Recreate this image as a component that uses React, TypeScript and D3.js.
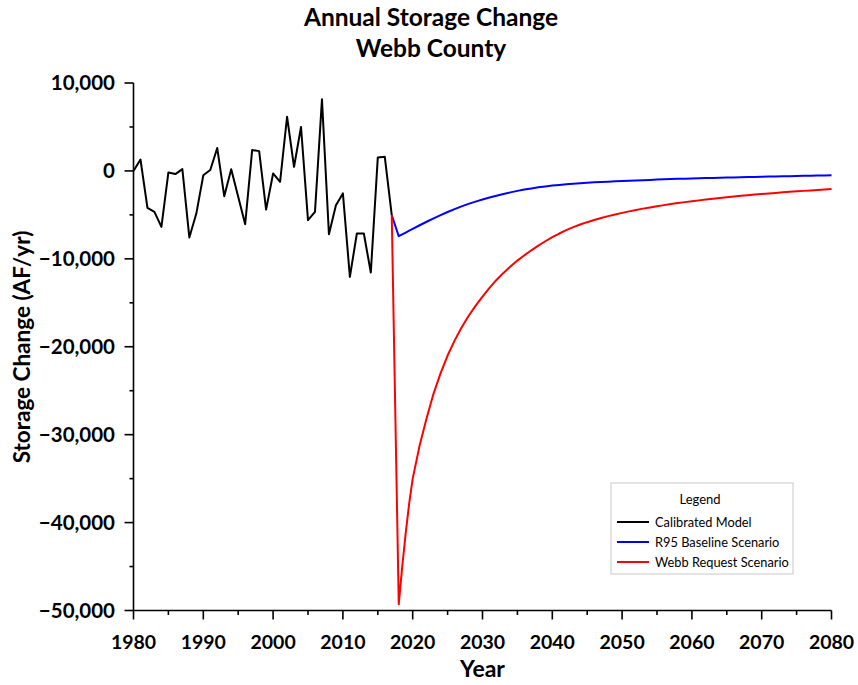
import React from "react";
import * as d3 from "d3";

const calibratedYears = d3.range(1980, 2018);
const calibratedValues = [
  0, 1300, -4200, -4660, -6370, -170, -360, 200, -7570, -4850,
  -500, 100, 2600, -2870, 200, -2950, -6060, 2370, 2250, -4400,
  -290, -1240, 6160, 470, 5000, -5600, -4660, 8140, -7200, -3900,
  -2560, -12060, -7120, -7120, -11560, 1540, 1600, -5030,
];

const scenarioYears = [2017, 2018, 2018.5, 2019, 2019.5, ...d3.range(2020, 2081)];

const baselineValues = [
  -5030, -7430, -7220, -7010, -6800,
  -6590, -6180, -5780, -5390, -5020, -4670, -4340, -4030, -3750, -3490,
  -3250, -3030, -2820, -2620, -2440, -2270, -2120, -1990, -1870, -1760,
  -1670, -1590, -1520, -1460, -1400, -1350, -1300, -1260, -1220, -1180,
  -1145, -1110, -1080, -1050, -1020, -990, -960, -930, -900, -880,
  -860, -840, -815, -795, -775, -755, -735, -715, -700, -680,
  -665, -645, -630, -610, -595, -580, -560, -545, -530, -515,
  -500,
];

const webbValues = [
  -5030, -49300, -45000, -41200, -37800,
  -35000, -31200, -28100, -25300, -23000, -21000, -19300, -17800, -16500, -15350,
  -14300, -13300, -12400, -11600, -10880, -10200, -9600, -9030, -8500, -8000,
  -7540, -7120, -6740, -6400, -6100, -5830, -5580, -5350, -5140, -4950,
  -4770, -4600, -4440, -4290, -4150, -4020, -3890, -3770, -3660, -3550,
  -3450, -3350, -3250, -3160, -3070, -2990, -2910, -2830, -2760, -2690,
  -2620, -2560, -2500, -2440, -2380, -2320, -2270, -2220, -2170, -2120,
  -2070,
];

const xTicks = d3.range(1980, 2081, 10);
const xMinorTicks = d3.range(1985, 2080, 10);
const yTicks = d3.range(-50000, 10001, 10000);
const yMinorTicks = d3.range(-45000, 10000, 10000);

const legendItems = [
  { label: "Calibrated Model", color: "#000000" },
  { label: "R95 Baseline Scenario", color: "#0000ff" },
  { label: "Webb Request Scenario", color: "#ff0000" },
];

const W = 858;
const H = 685;
const M = { left: 133.5, right: 831.5, top: 83, bottom: 610.5 };
const FONT = "Lato, 'Open Sans', sans-serif";

export default function App() {
  const x = d3.scaleLinear().domain([1980, 2080]).range([M.left, M.right]);
  const y = d3.scaleLinear().domain([-50000, 10000]).range([M.bottom, M.top]);
  const line = d3
    .line<[number, number]>()
    .x((d) => x(d[0]))
    .y((d) => y(d[1]));

  const calib = calibratedYears.map((yr, i) => [yr, calibratedValues[i]] as [number, number]);
  const base = scenarioYears.map((yr, i) => [yr, baselineValues[i]] as [number, number]);
  const webb = scenarioYears.map((yr, i) => [yr, webbValues[i]] as [number, number]);
  const fmt = d3.format(",");

  const lx = 611;
  const ly = 483;

  return (
    <svg
      width={W}
      height={H}
      style={{ position: "absolute", left: 0, top: 0, background: "#fff" }}
      fontFamily={FONT}
    >
      <rect width={W} height={H} fill="#fff" />
      <text x={431} y={26} textAnchor="middle" fontWeight="bold" fontSize={24.5} fill="#000">
        Annual Storage Change
      </text>
      <text x={431} y={57} textAnchor="middle" fontWeight="bold" fontSize={24.5} fill="#000">
        Webb County
      </text>

      {/* axes */}
      <line x1={M.left} x2={M.left} y1={M.top} y2={M.bottom} stroke="#000" strokeWidth={1.6} />
      <line x1={M.left} x2={M.right} y1={M.bottom} y2={M.bottom} stroke="#000" strokeWidth={1.6} />
      {yTicks.map((t) => (
        <g key={"y" + t}>
          <line x1={M.left - 9} x2={M.left} y1={y(t)} y2={y(t)} stroke="#000" strokeWidth={1.6} />
          <text x={115} y={y(t) + 7} textAnchor="end" fontWeight="bold" fontSize={20.5} fill="#000">
            {fmt(t)}
          </text>
        </g>
      ))}
      {yMinorTicks.map((t) => (
        <line key={"ym" + t} x1={M.left - 4} x2={M.left} y1={y(t)} y2={y(t)} stroke="#000" strokeWidth={1.6} />
      ))}
      {xTicks.map((t) => (
        <g key={"x" + t}>
          <line x1={x(t)} x2={x(t)} y1={M.bottom} y2={M.bottom + 9} stroke="#000" strokeWidth={1.6} />
          <text x={x(t)} y={649} textAnchor="middle" fontWeight="bold" fontSize={19.5} fill="#000">
            {t}
          </text>
        </g>
      ))}
      {xMinorTicks.map((t) => (
        <line key={"xm" + t} x1={x(t)} x2={x(t)} y1={M.bottom} y2={M.bottom + 4.5} stroke="#000" strokeWidth={1.6} />
      ))}
      <text x={(M.left + M.right) / 2} y={677} textAnchor="middle" fontWeight="bold" fontSize={23} fill="#000">
        Year
      </text>
      <text
        transform={`translate(30, 347) rotate(-90)`}
        textAnchor="middle"
        fontWeight="bold"
        fontSize={22.5}
        fill="#000"
      >
        Storage Change (AF/yr)
      </text>

      {/* series */}
      <path d={line(calib) || ""} fill="none" stroke="#000" strokeWidth={2} strokeLinejoin="round" />
      <path d={line(base) || ""} fill="none" stroke="#0000ff" strokeWidth={2} strokeLinejoin="round" />
      <path d={line(webb) || ""} fill="none" stroke="#ff0000" strokeWidth={2} strokeLinejoin="round" />

      {/* legend */}
      <rect x={lx} y={ly} width={182} height={91} fill="#fff" stroke="#c8c8c8" strokeWidth={1} />
      <text x={lx + 89} y={ly + 21} textAnchor="middle" fontSize={13} fill="#000">
        Legend
      </text>
      {legendItems.map((d, i) => (
        <g key={d.label}>
          <line x1={lx + 6} x2={lx + 38} y1={ly + 39 + i * 20} y2={ly + 39 + i * 20} stroke={d.color} strokeWidth={2} />
          <text x={lx + 44} y={ly + 43.5 + i * 20} fontSize={12.8} fill="#000">
            {d.label}
          </text>
        </g>
      ))}
    </svg>
  );
}
